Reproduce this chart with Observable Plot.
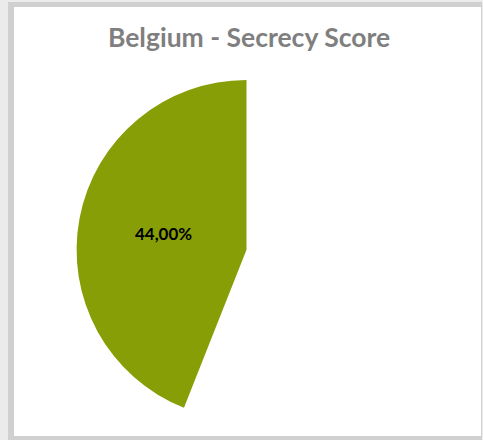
<!DOCTYPE html>
<html>
<head>
<meta charset="utf-8">
<script src="https://cdn.jsdelivr.net/npm/d3@7"></script>
<script src="https://cdn.jsdelivr.net/npm/@observablehq/plot@0.6"></script>
<style>
  html, body { margin: 0; padding: 0; background: #ebebeb; width: 483px; height: 440px; overflow: hidden; }
  #frame { position: absolute; left: 8px; top: 2px; width: 467px; height: 429px;
           border-style: solid; border-color: #d0d0d0; border-width: 5px 1px 5px 6px; background: #fff; }
  #title { position: absolute; left: 0; top: 0; width: 470px; height: 60px; text-align: center;
           font-family: Lato, "Open Sans", sans-serif; font-weight: 700; font-size: 26.5px; color: #7f7f7f;
           line-height: 60px; }
  #chart { position: absolute; left: 0; top: 60px; }
</style>
</head>
<body>
<div id="frame">
  <div id="title"></div>
  <div id="chart"></div>
</div>
<script>
const chartTitle = "Belgium - Secrecy Score";
const sliceNames = ["Secrecy", "Remainder"];
const sliceValues = [44.0, 56.0];

document.getElementById("title").textContent = chartTitle;

const total = d3.sum(sliceValues);
// Excel-style: start at 12 o'clock, going counterclockwise
const arcs = [];
let a0 = 0;
sliceNames.forEach((name, i) => {
  const a1 = a0 - 2 * Math.PI * sliceValues[i] / total;
  arcs.push({name, value: sliceValues[i], startAngle: a0, endAngle: a1, mid: (a0 + a1) / 2, index: i});
  a0 = a1;
});
const fills = ["#879e07", "none"];

const W = 470, H = 369, cx = 234, cy = 184, R = 171;
const labelData = arcs.filter(d => d.index === 0).map(d => ({
  x: 0.5 * Math.sin(d.mid),
  y: 0.5 * Math.cos(d.mid),
  text: d.value.toFixed(2).replace(".", ",") + "%"
}));

const plot = Plot.plot({
  width: W,
  height: H,
  margin: 0,
  x: {domain: [-1, 1], range: [cx - R, cx + R], axis: null},
  y: {domain: [-1, 1], range: [cy + R, cy - R], axis: null},
  style: {background: "transparent", overflow: "visible"},
  marks: [
    (index, scales) => {
      const ox = scales.x(0), oy = scales.y(0);
      const r = scales.x(1) - scales.x(0);
      const g = d3.create("svg:g").attr("transform", `translate(${ox},${oy})`);
      const arc = d3.arc().innerRadius(0).outerRadius(r);
      g.selectAll("path").data(arcs).join("path")
        .attr("d", d => arc({startAngle: Math.min(d.startAngle, d.endAngle), endAngle: Math.max(d.startAngle, d.endAngle)}))
        .attr("fill", d => fills[d.index]);
      return g.node();
    },
    Plot.text(labelData, {x: "x", y: "y", text: "text", fontSize: 17, fontWeight: 700,
      fill: "#000", fontFamily: "Lato, 'Open Sans', sans-serif"})
  ]
});
document.getElementById("chart").appendChild(plot);
</script>
</body>
</html>
